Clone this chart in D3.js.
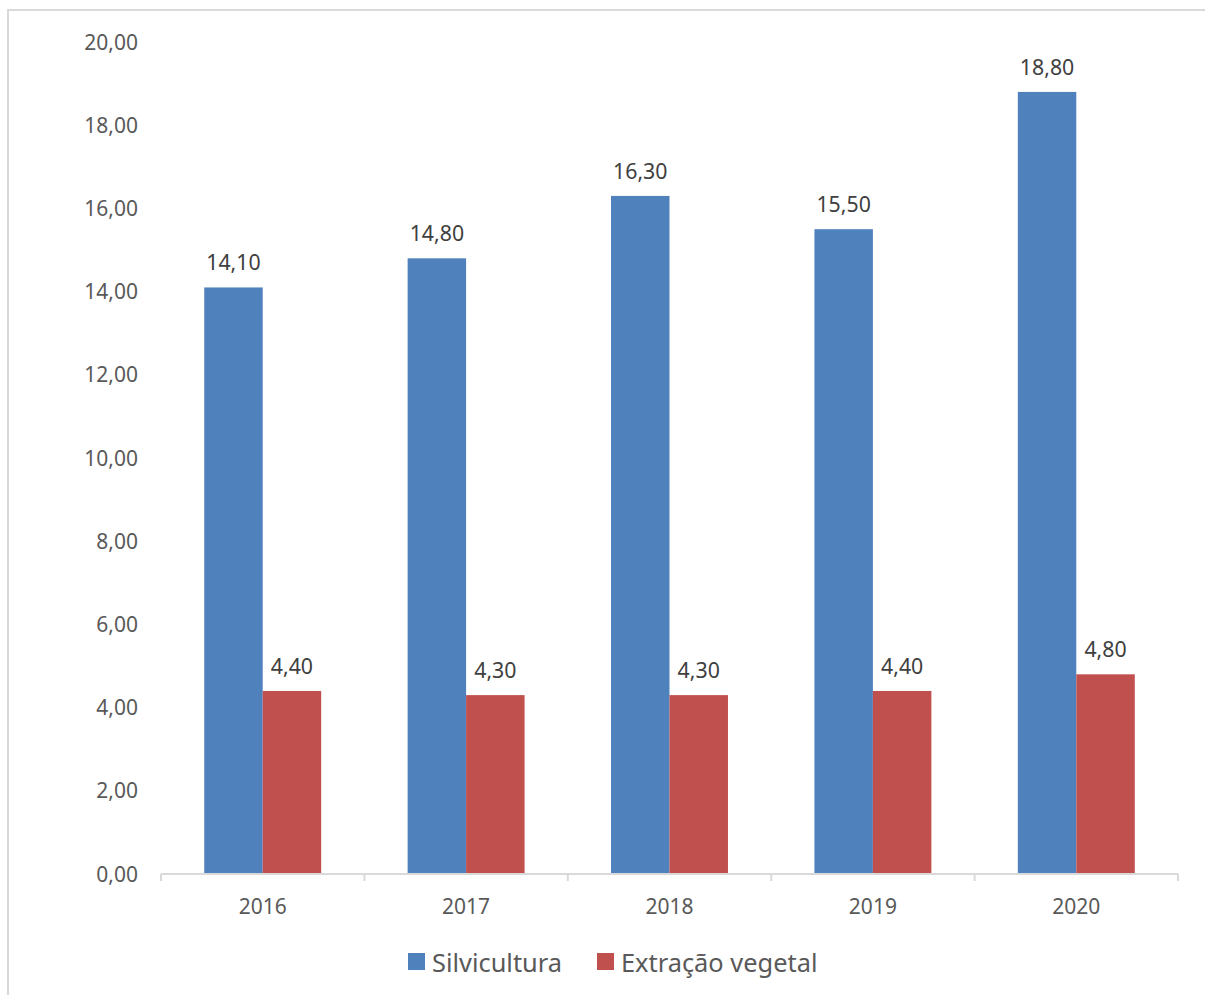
<!DOCTYPE html>
<html>
<head>
<meta charset="utf-8">
<script src="https://cdn.jsdelivr.net/npm/d3@7"></script>
<style>
  html, body { margin: 0; padding: 0; background: #fff; }
  svg { display: block; }
</style>
</head>
<body>
<div id="chart"></div>
<script>
const years = ['2016', '2017', '2018', '2019', '2020'];
const silvicultura = [14.1, 14.8, 16.3, 15.5, 18.8];
const extracaoVegetal = [4.4, 4.3, 4.3, 4.4, 4.8];
const seriesNames = ['Silvicultura', 'Extração vegetal'];
const seriesColors = ['#4f81bd', '#c0504d'];
const yTicks = [0, 2, 4, 6, 8, 10, 12, 14, 16, 18, 20];

const width = 1205, height = 995;
const margin = {top: 42, right: 27, bottom: 121, left: 161};
const font = '"Noto Sans", "Open Sans", sans-serif';
const textColor = '#595959';
const fmt = v => d3.format('.2f')(v).replace('.', ',');

const svg = d3.select('#chart')
    .append('svg')
    .attr('width', width)
    .attr('height', height);

// Chart frame (runs off the right and bottom edges)
svg.append('rect')
    .attr('x', 8).attr('y', 10)
    .attr('width', width + 20).attr('height', height + 20)
    .attr('fill', 'none')
    .attr('stroke', '#d9d9d9')
    .attr('stroke-width', 2);

const x = d3.scaleBand()
    .domain(years)
    .range([margin.left, width - margin.right])
    .paddingInner(0.425)
    .paddingOuter(0.2125);

const xSub = d3.scaleBand()
    .domain(seriesNames)
    .range([0, x.bandwidth()]);

const y = d3.scaleLinear()
    .domain([0, 20])
    .range([height - margin.bottom, margin.top]);

const data = years.map((yr, i) => ({
    year: yr,
    values: [
        {name: seriesNames[0], value: silvicultura[i]},
        {name: seriesNames[1], value: extracaoVegetal[i]}
    ]
}));

// Y axis labels only (no line, no grid)
svg.append('g')
    .attr('transform', `translate(${margin.left - 23},0)`)
    .call(d3.axisLeft(y).tickValues(yTicks).tickFormat(fmt).tickSize(0).tickPadding(0))
    .call(g => g.select('.domain').remove())
    .call(g => g.selectAll('text')
        .attr('font-family', font)
        .attr('font-size', '21px')
        .attr('fill', textColor)
        .attr('dy', '0.34em'));

// Bars
const groups = svg.selectAll('.year')
    .data(data)
    .enter()
    .append('g')
    .attr('class', 'year')
    .attr('transform', d => `translate(${x(d.year)},0)`);

groups.selectAll('rect')
    .data(d => d.values)
    .enter()
    .append('rect')
    .attr('x', d => xSub(d.name))
    .attr('y', d => y(d.value))
    .attr('width', xSub.bandwidth())
    .attr('height', d => y(0) - y(d.value))
    .attr('fill', (d, i) => seriesColors[i]);

// Value labels
groups.selectAll('text')
    .data(d => d.values)
    .enter()
    .append('text')
    .attr('x', d => xSub(d.name) + xSub.bandwidth() / 2)
    .attr('y', d => y(d.value) - 17)
    .attr('text-anchor', 'middle')
    .attr('font-family', font)
    .attr('font-size', '21.3px')
    .attr('fill', '#404040')
    .text(d => fmt(d.value));

// X axis: line with tick marks at band boundaries
const xAxis = svg.append('g')
    .attr('transform', `translate(0,${y(0)})`);

xAxis.append('line')
    .attr('x1', margin.left).attr('x2', width - margin.right)
    .attr('stroke', '#d9d9d9').attr('stroke-width', 2);

const step = x.step();
const boundaries = years.map(yr => x(yr) - x.paddingOuter() * step)
    .concat([width - margin.right]);

xAxis.selectAll('.tick-mark')
    .data(boundaries)
    .enter()
    .append('line')
    .attr('class', 'tick-mark')
    .attr('x1', d => d).attr('x2', d => d)
    .attr('y1', 0).attr('y2', 7)
    .attr('stroke', '#d9d9d9').attr('stroke-width', 2);

xAxis.selectAll('.year-label')
    .data(years)
    .enter()
    .append('text')
    .attr('class', 'year-label')
    .attr('x', d => x(d) + x.bandwidth() / 2)
    .attr('y', 40)
    .attr('text-anchor', 'middle')
    .attr('font-family', font)
    .attr('font-size', '21px')
    .attr('fill', textColor)
    .text(d => d);

// Legend
const legendX = [408, 597];
const legend = svg.append('g')
    .selectAll('g')
    .data(seriesNames)
    .enter()
    .append('g')
    .attr('transform', (d, i) => `translate(${legendX[i]},953)`);

legend.append('rect')
    .attr('width', 17).attr('height', 17)
    .attr('fill', (d, i) => seriesColors[i]);

legend.append('text')
    .attr('x', 24)
    .attr('y', 19)
    .attr('font-family', font)
    .attr('font-size', '25.4px')
    .attr('fill', textColor)
    .text(d => d);
</script>
</body>
</html>
